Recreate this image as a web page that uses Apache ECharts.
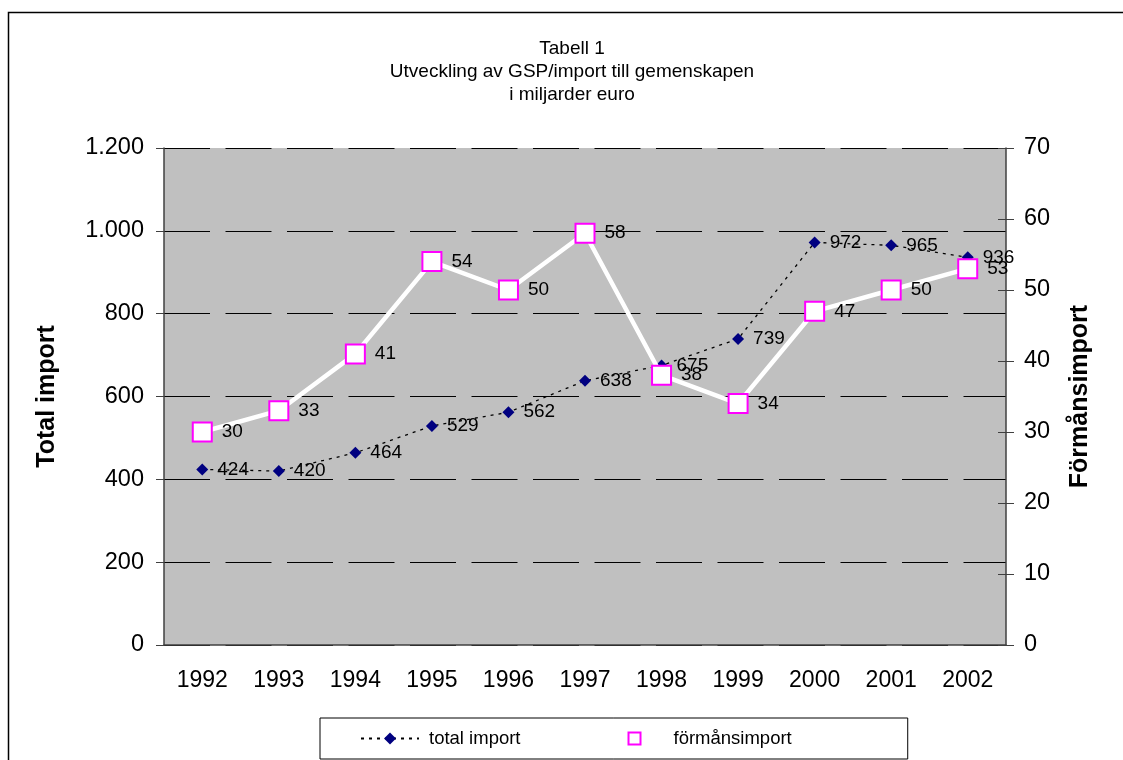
<!DOCTYPE html>
<html>
<head>
<meta charset="utf-8">
<script src="https://cdn.jsdelivr.net/npm/echarts@6/dist/echarts.min.js"></script>
<style>
html,body{margin:0;padding:0;background:#fff;}
#chart{width:1123px;height:760px;}
</style>
</head>
<body>
<div id="chart"></div>
<script>
const years = ['1992','1993','1994','1995','1996','1997','1998','1999','2000','2001','2002'];
const totalImport = [424, 420, 464, 529, 562, 638, 675, 739, 972, 965, 936];
const formansImport = [30, 33, 41, 54, 50, 58, 38, 34, 47, 50, 53];
const leftTicks = [0, 200, 400, 600, 800, 1000, 1200];
const rightTicks = [0, 10, 20, 30, 40, 50, 60, 70];
const titleLines = ['Tabell 1', 'Utveckling av GSP/import till gemenskapen', 'i miljarder euro'];

const FONT = 'Liberation Sans, Arial, sans-serif';
const chart = echarts.init(document.getElementById('chart'));
const fmtLeft = v => v >= 1000 ? (Math.floor(v/1000) + '.' + String(v % 1000).padStart(3, '0')) : String(v);

chart.setOption({
  backgroundColor: '#fff',
  animation: false,
  title: {
    text: titleLines.join('\n'),
    left: 567, top: 32, textAlign: 'center',
    textStyle: { fontFamily: FONT, fontSize: 19, fontWeight: 'normal', lineHeight: 23, color: '#000' }
  },
  graphic: [{
    type: 'rect', shape: { x: 8.5, y: 12.5, width: 1300, height: 900 },
    style: { fill: 'none', stroke: '#000', lineWidth: 1.5 }, z: -10
  }],
  legend: {
    left: 320, top: 718,
    padding: [11, 116, 11, 40],
    borderColor: '#000', borderWidth: 1, backgroundColor: '#fff',
    itemWidth: 58, itemHeight: 15, itemGap: 84,
    textStyle: { fontFamily: FONT, fontSize: 18.5, color: '#000', padding: [0, 0, 0, 5] },
    data: [{ name: 'total import' }, { name: 'förmånsimport' }]
  },
  grid: { left: 164, right: 117, top: 148, height: 497, containLabel: false, show: true, backgroundColor: '#C0C0C0', borderWidth: 0 },
  xAxis: {
    type: 'category', data: years, boundaryGap: true,
    axisLine: { lineStyle: { color: '#404040', width: 1.5 } },
    axisTick: { inside: true, length: 6, lineStyle: { color: '#404040' } },
    axisLabel: { fontFamily: FONT, fontSize: 23, color: '#000', margin: 24 }
  },
  yAxis: [{
    type: 'value', min: 0, max: 1200, interval: 200, position: 'left',
    name: 'Total import', nameLocation: 'middle', nameGap: 104, nameRotate: 90,
    nameTextStyle: { fontFamily: FONT, fontSize: 25, fontWeight: 'bold', color: '#000' },
    axisLine: { show: true, lineStyle: { color: '#404040', width: 1.5 } },
    axisTick: { show: true, length: 8, lineStyle: { color: '#404040' } },
    axisLabel: { fontFamily: FONT, fontSize: 23.5, color: '#000', margin: 20, formatter: fmtLeft },
    splitLine: { show: true, lineStyle: { color: '#000', width: 1, type: [46, 15.5] } }
  }, {
    type: 'value', min: 0, max: 70, interval: 10, position: 'right',
    name: 'Förmånsimport', nameLocation: 'middle', nameGap: 62, nameRotate: 90,
    nameTextStyle: { fontFamily: FONT, fontSize: 25, fontWeight: 'bold', color: '#000' },
    axisLine: { show: true, lineStyle: { color: '#404040', width: 1.5 } },
    axisTick: { show: true, length: 8, lineStyle: { color: '#404040' } },
    axisLabel: { fontFamily: FONT, fontSize: 23.5, color: '#000', margin: 18 },
    splitLine: { show: false }
  }, {
    type: 'value', min: 0, max: 70, interval: 10, position: 'right',
    axisLine: { show: false },
    axisTick: { show: true, inside: true, length: 8, lineStyle: { color: '#404040' } },
    axisLabel: { show: false },
    splitLine: { show: false }
  }],
  series: [{
    name: 'total import', type: 'line', yAxisIndex: 0, data: totalImport,
    symbol: 'diamond', symbolSize: 12, z: 3,
    lineStyle: { color: '#000', width: 1.3, type: [3, 5] },
    itemStyle: { color: '#000080', borderWidth: 0 },
    label: { show: true, position: 'right', distance: 9, fontFamily: FONT, fontSize: 19, color: '#000' }
  }, {
    name: 'förmånsimport', type: 'line', yAxisIndex: 1, data: formansImport,
    symbol: 'rect', symbolSize: 19, z: 4,
    lineStyle: { color: '#fff', width: 4.5 },
    itemStyle: { color: '#fff', borderColor: '#FF00FF', borderWidth: 2 },
    label: { show: true, position: 'right', distance: 9, fontFamily: FONT, fontSize: 19, color: '#000' }
  }]
});
</script>
</body>
</html>
